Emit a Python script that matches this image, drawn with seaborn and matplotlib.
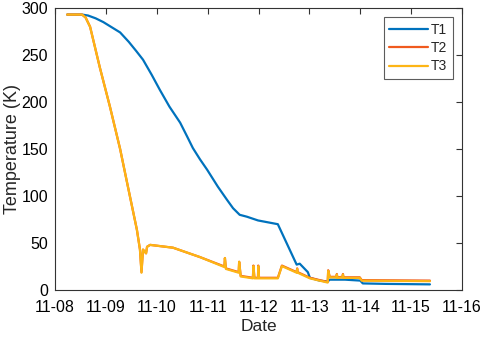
import numpy as np
import pandas as pd
import matplotlib
matplotlib.use("Agg")
import matplotlib.pyplot as plt
import seaborn as sns

# Days (day of November) and temperatures (K)
t1_day = [8.24, 8.53, 8.65, 8.80, 8.95, 9.10, 9.28, 9.45, 9.60, 9.73, 9.90, 10.06,
          10.25, 10.46, 10.60, 10.71, 10.85, 10.99, 11.20, 11.38, 11.50, 11.63, 11.77,
          11.99, 12.38, 12.75, 12.81, 12.97, 13.01, 13.20, 13.36, 13.40, 13.70, 14.00,
          14.05, 14.50, 15.37]
t1_val = [293, 293, 292, 289, 285, 280, 274, 264, 254, 245, 229, 213,
          195, 178, 163, 151, 139, 128, 110, 96, 87, 80, 78,
          74, 70, 27, 28, 19, 13, 10, 9, 11, 11, 10,
          7, 6.5, 6]

t2_day = [8.24, 8.53, 8.60, 8.69, 8.88, 9.08, 9.28, 9.41, 9.61, 9.67, 9.70, 9.73, 9.79,
          9.81, 9.87, 10.32, 10.85, 11.33, 11.34, 11.36, 11.61, 11.62, 11.65, 11.89,
          11.90, 11.92, 11.99, 11.995, 12.01, 12.38, 12.46, 12.75, 12.76, 12.77, 13.01,
          13.36, 13.37, 13.40, 13.53, 13.54, 13.55, 13.65, 13.66, 13.67, 13.99, 14.03,
          15.37]
t2_val = [293, 293, 290, 280, 237, 195, 150, 116, 64, 43, 19, 43, 39,
          46, 48, 45, 35, 25, 34, 23, 19, 30, 15, 13,
          26, 13, 13, 26, 13, 13, 26, 19, 23, 19, 13,
          8.5, 21, 14, 14, 17, 13.5, 14, 17, 13.5, 13.5, 10.5,
          10]

t3_day = t2_day
t3_val = [v - 0.6 if v < 30 else v for v in t2_val]

xtick_labels = ["11-08", "11-09", "11-10", "11-11", "11-12", "11-13", "11-14", "11-15", "11-16"]
xtick_pos = [8, 9, 10, 11, 12, 13, 14, 15, 16]
ytick_pos = [0, 50, 100, 150, 200, 250, 300]

df = pd.concat([
    pd.DataFrame({"day": t1_day, "temp": t1_val, "series": "T1"}),
    pd.DataFrame({"day": t2_day, "temp": t2_val, "series": "T2"}),
    pd.DataFrame({"day": t3_day, "temp": t3_val, "series": "T3"}),
], ignore_index=True)

sns.set_style("white")
plt.rcParams["font.family"] = ["Liberation Sans", "DejaVu Sans"]

fig = plt.figure(figsize=(4.84, 3.37), dpi=100)
ax = fig.add_axes([55 / 484, 1 - 290 / 337, 407 / 484, 282 / 337])

palette = {"T1": "#0072BD", "T2": "#F05A1E", "T3": "#FDB515"}
sns.lineplot(data=df, x="day", y="temp", hue="series", palette=palette,
             estimator=None, sort=False, linewidth=1.6, ax=ax)

ax.set_xlim(8, 16)
ax.set_ylim(0, 300)
ax.set_xticks(xtick_pos)
ax.set_xticklabels(xtick_labels)
ax.set_yticks(ytick_pos)
ax.tick_params(direction="in", length=4, width=0.8, colors="#333333",
               labelsize=11.5, top=True, right=True, labeltop=False, labelright=False)
ax.tick_params(axis="x", pad=7)
ax.tick_params(axis="y", pad=5)
for lbl in ax.get_xticklabels() + ax.get_yticklabels():
    lbl.set_color("black")
for s in ax.spines.values():
    s.set_color("#333333")
    s.set_linewidth(0.8)
ax.set_xlabel("Date", fontsize=12.5)
ax.set_ylabel("Temperature (K)", fontsize=13)
ax.xaxis.set_label_coords(0.5, -0.104)
ax.yaxis.set_label_coords(-0.084, 0.5)

leg = ax.legend(loc="upper right", fontsize=10, frameon=True, fancybox=False,
                edgecolor="#333333", handlelength=2.75, handletextpad=0.25,
                borderpad=0.4, borderaxespad=0.65, labelspacing=0.32)
leg.get_frame().set_linewidth(0.8)

fig.savefig("out.png", dpi=100)
